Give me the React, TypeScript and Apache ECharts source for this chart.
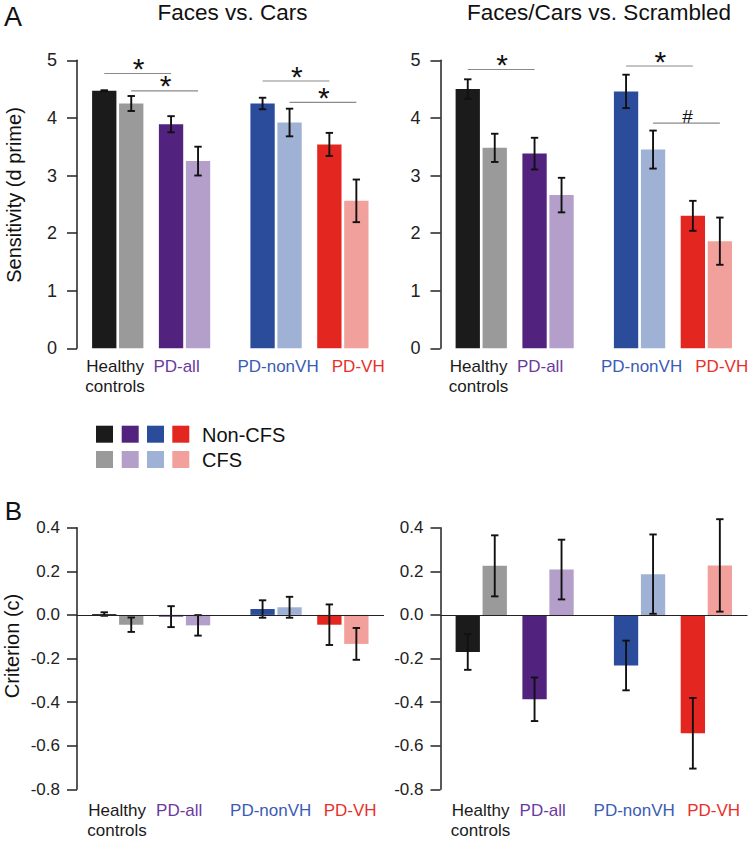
import React, { useEffect, useRef } from 'react';
import * as echarts from 'echarts';

const FONT = "'Liberation Sans', Arial, Helvetica, sans-serif";

// ---- categories / labels ----
const groups = ['Healthy\ncontrols', 'PD-all', 'PD-nonVH', 'PD-VH'];
const groupTextColors = ['#1a1a1a', '#6a3a9e', '#3a5cb4', '#e8302a'];
const nonCfsColors = ['#1b1b1b', '#51237f', '#2b4b9b', '#e3261f'];
const cfsColors = ['#9a9a9a', '#b39fca', '#a0b1d6', '#f2a09b'];
const legendLabels = ['Non-CFS', 'CFS'];
const panelTitles = ['Faces vs. Cars', 'Faces/Cars vs. Scrambled'];
const sensTicks = { min: 0, max: 5, interval: 1 };
const critTicks = { min: -0.8, max: 0.4, interval: 0.2 };

// ---- A: Sensitivity (d prime) ----
const dFcNon = [4.47, 3.89, 4.25, 3.54];
const dFcNonErr = [0.01, 0.14, 0.1, 0.2];
const dFcCfs = [4.25, 3.25, 3.92, 2.56];
const dFcCfsErr = [0.13, 0.25, 0.24, 0.37];
const dFsNon = [4.5, 3.38, 4.46, 2.3];
const dFsNonErr = [0.17, 0.275, 0.29, 0.26];
const dFsCfs = [3.48, 2.66, 3.45, 1.86];
const dFsCfsErr = [0.245, 0.3, 0.33, 0.41];

// ---- B: Criterion (c) ----
const cFcNon = [0.004, -0.008, 0.027, -0.045];
const cFcNonErr = [0.008, 0.048, 0.04, 0.093];
const cFcCfs = [-0.045, -0.048, 0.035, -0.133];
const cFcCfsErr = [0.033, 0.047, 0.048, 0.073];
const cFsNon = [-0.17, -0.387, -0.232, -0.543];
const cFsNonErr = [0.082, 0.1, 0.114, 0.162];
const cFsCfs = [0.225, 0.208, 0.187, 0.227];
const cFsCfsErr = [0.14, 0.137, 0.182, 0.212];

// ---- significance markers: [fromGroup, toGroup, side(-1 non / +1 cfs), y, symbol] ----
const sigFc: [number, number, number, number, string][] = [
  [0, 1, -1, 4.77, '*'],
  [0, 1, 1, 4.47, '*'],
  [2, 3, -1, 4.64, '*'],
  [2, 3, 1, 4.27, '*'],
];
const sigFs: [number, number, number, number, string][] = [
  [0, 1, -1, 4.84, '*'],
  [2, 3, -1, 4.9, '*'],
  [2, 3, 1, 3.91, '#'],
];

// ---- layout ----
const GROUP_POS = [0, 1, 2.37, 3.37];
const BAR_W = 0.364;
const BAR_OFF = 0.202;
const X_MIN = -0.61;
const X_MAX = 3.986;
const LABEL_SHIFT_TOP = [-0.04, -0.12, 0.03, 0.23];
const LABEL_SHIFT_BOTTOM = [-0.01, -0.08, -0.08, 0.11];

function barSeries(idx: number, vals: number[], errs: number[], side: number, colors: string[], extra: any = {}) {
  return {
    type: 'custom',
    xAxisIndex: idx,
    yAxisIndex: idx,
    data: vals.map((v, i) => [GROUP_POS[i] + side * BAR_OFF, v, errs[i]]),
    encode: { x: 0, y: 1 },
    renderItem: (params: any, api: any) => {
      const x = api.value(0);
      const v = api.value(1);
      const e = api.value(2);
      const a = api.coord([x - BAR_W / 2, 0]);
      const b = api.coord([x + BAR_W / 2, v]);
      const t = api.coord([x, v + e]);
      const bt = api.coord([x, v - e]);
      const cap = 3.7;
      const ls = { stroke: '#111', lineWidth: 1.9 };
      return {
        type: 'group',
        children: [
          {
            type: 'rect',
            shape: { x: a[0], y: Math.min(a[1], b[1]), width: b[0] - a[0], height: Math.abs(b[1] - a[1]) },
            style: { fill: colors[params.dataIndex] },
          },
          { type: 'line', shape: { x1: t[0], y1: t[1], x2: bt[0], y2: bt[1] }, style: ls },
          { type: 'line', shape: { x1: t[0] - cap, y1: t[1], x2: t[0] + cap, y2: t[1] }, style: ls },
          { type: 'line', shape: { x1: bt[0] - cap, y1: bt[1], x2: bt[0] + cap, y2: bt[1] }, style: ls },
        ],
      };
    },
    ...extra,
  };
}

function sigSeries(idx: number, sig: [number, number, number, number, string][]) {
  return {
    type: 'custom',
    xAxisIndex: idx,
    yAxisIndex: idx,
    data: sig.map((s) => [GROUP_POS[s[0]] + s[2] * BAR_OFF, GROUP_POS[s[1]] + s[2] * BAR_OFF, s[3]]),
    encode: { x: [0, 1], y: 2 },
    renderItem: (params: any, api: any) => {
      const p1 = api.coord([api.value(0), api.value(2)]);
      const p2 = api.coord([api.value(1), api.value(2)]);
      const sym = sig[params.dataIndex][4];
      const isStar = sym === '*';
      return {
        type: 'group',
        children: [
          { type: 'line', shape: { x1: p1[0], y1: p1[1], x2: p2[0], y2: p2[1] }, style: { stroke: '#8a8a8a', lineWidth: 1.1 } },
          {
            type: 'text',
            x: (p1[0] + p2[0]) / 2 + 1,
            y: p1[1] - (isStar ? 5 : 7),
            style: {
              text: sym,
              fontSize: isStar ? 30 : 19,
              fontFamily: FONT,
              fill: '#111',
              align: 'center',
              verticalAlign: 'middle',
            },
          },
        ],
      };
    },
  };
}

function xAxis(idx: number, shift: number[], margin: number) {
  const pos = GROUP_POS.map((p, i) => p + shift[i]);
  const rich: any = {};
  groupTextColors.forEach((c, i) => {
    rich['g' + i] = { color: c, fontSize: 17, lineHeight: 20, fontFamily: FONT };
  });
  return {
    type: 'value',
    gridIndex: idx,
    min: X_MIN,
    max: X_MAX,
    axisLine: { show: false, onZero: false },
    axisTick: { show: false },
    splitLine: { show: false },
    axisLabel: {
      customValues: pos,
      margin,
      fontFamily: FONT,
      formatter: (val: number) => {
        let k = 0;
        let best = Infinity;
        pos.forEach((p, i) => {
          const d = Math.abs(p - val);
          if (d < best) {
            best = d;
            k = i;
          }
        });
        return groups[k]
          .split('\n')
          .map((s) => `{g${k}|${s}}`)
          .join('\n');
      },
      rich,
    },
  };
}

function yAxis(idx: number, ticks: { min: number; max: number; interval: number }, fontSize: number, margin: number, decimals: number) {
  return {
    type: 'value',
    gridIndex: idx,
    min: ticks.min,
    max: ticks.max,
    interval: ticks.interval,
    axisLine: { show: true, onZero: false, lineStyle: { color: '#222', width: 1.5 } },
    axisTick: { show: true, length: 10, lineStyle: { color: '#222', width: 1.5 } },
    splitLine: { show: false },
    axisLabel: {
      fontSize,
      margin,
      color: '#222',
      fontFamily: FONT,
      formatter: (v: number) => v.toFixed(decimals),
    },
  };
}

export default function App() {
  const ref = useRef<HTMLDivElement>(null);
  useEffect(() => {
    if (!ref.current) return;
    const chart = echarts.init(ref.current, undefined, { renderer: 'svg' });

    const legendX = [96, 121.7, 147, 172.3];
    const legendRowsY = [425.7, 451];
    const legendGraphics: any[] = [];
    [nonCfsColors, cfsColors].forEach((cols, r) => {
      cols.forEach((c, i) => {
        legendGraphics.push({
          type: 'rect',
          shape: { x: legendX[i], y: legendRowsY[r], width: 17, height: 17 },
          style: { fill: c },
        });
      });
      legendGraphics.push({
        type: 'text',
        x: 202,
        y: legendRowsY[r] + 9,
        style: { text: legendLabels[r], fontSize: 20, fontFamily: FONT, fill: '#111', verticalAlign: 'middle', align: 'left' },
      });
    });

    const zeroLine = {
      markLine: {
        silent: true,
        symbol: ['none', 'none'],
        label: { show: false },
        lineStyle: { color: '#222', width: 1.2, type: 'solid' },
        data: [{ yAxis: 0 }],
      },
    };

    const option: any = {
      animation: false,
      backgroundColor: '#ffffff',
      textStyle: { fontFamily: FONT },
      grid: [
        { left: 77, top: 60.3, width: 307, height: 288 },
        { left: 440.5, top: 60.3, width: 307, height: 288 },
        { left: 77, top: 527.7, width: 307, height: 261.6 },
        { left: 440.5, top: 527.7, width: 307, height: 261.6 },
      ],
      xAxis: [
        xAxis(0, LABEL_SHIFT_TOP, 8),
        xAxis(1, LABEL_SHIFT_TOP, 8),
        xAxis(2, LABEL_SHIFT_BOTTOM, 11),
        xAxis(3, LABEL_SHIFT_BOTTOM, 11),
      ],
      yAxis: [
        yAxis(0, sensTicks, 18, 20, 0),
        yAxis(1, sensTicks, 18, 20, 0),
        yAxis(2, critTicks, 17, 17, 1),
        yAxis(3, critTicks, 17, 17, 1),
      ],
      series: [
        barSeries(0, dFcNon, dFcNonErr, -1, nonCfsColors),
        barSeries(0, dFcCfs, dFcCfsErr, 1, cfsColors),
        sigSeries(0, sigFc),
        barSeries(1, dFsNon, dFsNonErr, -1, nonCfsColors),
        barSeries(1, dFsCfs, dFsCfsErr, 1, cfsColors),
        sigSeries(1, sigFs),
        barSeries(2, cFcNon, cFcNonErr, -1, nonCfsColors, zeroLine),
        barSeries(2, cFcCfs, cFcCfsErr, 1, cfsColors),
        barSeries(3, cFsNon, cFsNonErr, -1, nonCfsColors, zeroLine),
        barSeries(3, cFsCfs, cFsCfsErr, 1, cfsColors),
      ],
      graphic: [
        { type: 'text', x: 13, y: 17, style: { text: 'A', fontSize: 27, fontFamily: FONT, fill: '#111', align: 'center', verticalAlign: 'middle' } },
        { type: 'text', x: 13.5, y: 511, style: { text: 'B', fontSize: 26, fontFamily: FONT, fill: '#111', align: 'center', verticalAlign: 'middle' } },
        { type: 'text', x: 232.5, y: 12, style: { text: panelTitles[0], fontSize: 22.5, fontFamily: FONT, fill: '#111', align: 'center', verticalAlign: 'middle' } },
        { type: 'text', x: 599, y: 12, style: { text: panelTitles[1], fontSize: 22.5, fontFamily: FONT, fill: '#111', align: 'center', verticalAlign: 'middle' } },
        { type: 'text', x: 13.5, y: 195, rotation: Math.PI / 2, style: { text: 'Sensitivity (d prime)', fontSize: 20, fontFamily: FONT, fill: '#111', align: 'center', verticalAlign: 'middle' } },
        { type: 'text', x: 12, y: 646, rotation: Math.PI / 2, style: { text: 'Criterion (c)', fontSize: 20, fontFamily: FONT, fill: '#111', align: 'center', verticalAlign: 'middle' } },
        ...legendGraphics,
      ],
    };
    chart.setOption(option);
    return () => chart.dispose();
  }, []);
  return <div ref={ref} style={{ position: 'absolute', left: 0, top: 0, width: 752, height: 841, background: '#fff' }} />;
}
